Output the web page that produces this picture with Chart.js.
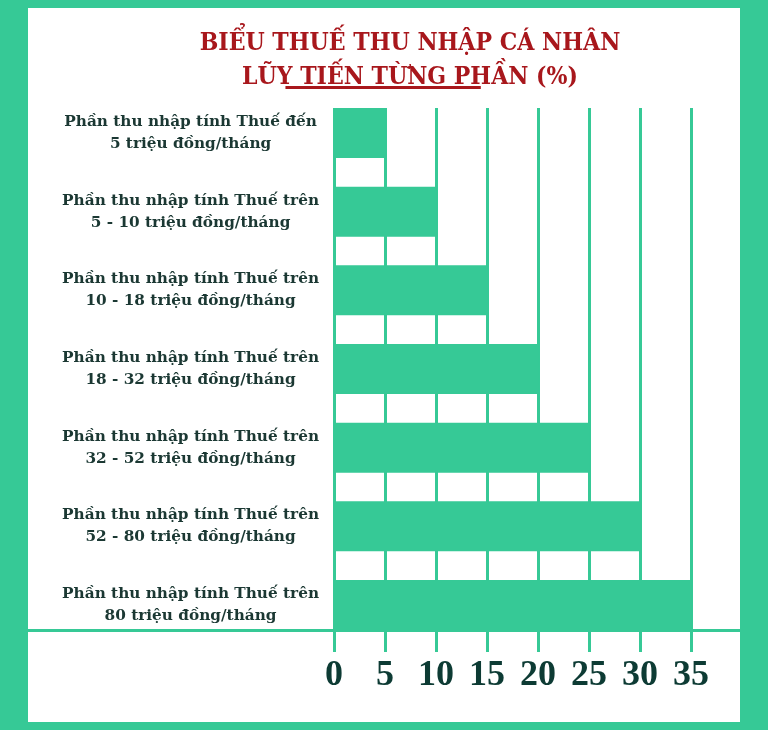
<!DOCTYPE html>
<html>
<head>
<meta charset="utf-8">
<script src="https://cdn.jsdelivr.net/npm/chart.js@4/dist/chart.umd.min.js"></script>
<style>
  html, body { margin: 0; padding: 0; background: #36c996; }
  #wrap { width: 768px; height: 730px; position: relative; }
</style>
</head>
<body>
<div id="wrap"><canvas id="c" width="768" height="730"></canvas></div>
<script>
const titleLines = ["BIỂU THUẾ THU NHẬP CÁ NHÂN", "LŨY TIẾN TỪNG PHẦN (%)"];
const categories = [
  ["Phần thu nhập tính Thuế đến", "5 triệu đồng/tháng"],
  ["Phần thu nhập tính Thuế trên", "5 - 10 triệu đồng/tháng"],
  ["Phần thu nhập tính Thuế trên", "10 - 18 triệu đồng/tháng"],
  ["Phần thu nhập tính Thuế trên", "18 - 32 triệu đồng/tháng"],
  ["Phần thu nhập tính Thuế trên", "32 - 52 triệu đồng/tháng"],
  ["Phần thu nhập tính Thuế trên", "52 - 80 triệu đồng/tháng"],
  ["Phần thu nhập tính Thuế trên", "80 triệu đồng/tháng"]
];
const taxRates = [5, 10, 15, 20, 25, 30, 35];
const xTicks = [0, 5, 10, 15, 20, 25, 30, 35];

const GREEN = '#36c996';
const RED = '#a8171c';
const DARK = '#1b3833';
const TICKDARK = '#0d3b34';

const decor = {
  id: 'decor',
  beforeDraw(chart) {
    const ctx = chart.ctx;
    ctx.save();
    ctx.fillStyle = GREEN;
    ctx.fillRect(0, 0, chart.width, chart.height);
    ctx.fillStyle = '#ffffff';
    ctx.fillRect(28, 8, 712, 714);
    ctx.restore();
  },
  afterDraw(chart) {
    const ctx = chart.ctx;
    const a = chart.chartArea;
    ctx.save();
    ctx.fillStyle = GREEN;
    ctx.fillRect(28, a.bottom - 1, 712, 3);
    ctx.fillStyle = RED;
    ctx.font = 'bold 24.5px "DejaVu Serif Condensed", "DejaVu Serif", serif';
    ctx.textAlign = 'center';
    ctx.textBaseline = 'alphabetic';
    const cx = 410;
    ctx.fillText(titleLines[0], cx, 50);
    ctx.fillText(titleLines[1], cx, 84);
    const full = ctx.measureText(titleLines[1]).width;
    const left = cx - full / 2;
    const yw = ctx.measureText('Y').width;
    const hw = ctx.measureText('H').width;
    const s = left + ctx.measureText(titleLines[1].slice(0, 2)).width + yw * 0.55;
    const e = left + ctx.measureText(titleLines[1].slice(0, 15)).width + hw * 0.5;
    ctx.fillRect(s, 86, e - s, 3);
    ctx.restore();
  }
};

new Chart(document.getElementById('c'), {
  type: 'bar',
  data: {
    datasets: [{
      data: taxRates.map((v, i) => ({ x: v, y: i })),
      backgroundColor: GREEN,
      borderWidth: 0,
      barPercentage: 0.636,
      categoryPercentage: 1
    }]
  },
  options: {
    responsive: false,
    animation: false,
    indexAxis: 'y',
    layout: { padding: { top: 108, right: 28, bottom: 0, left: 0 } },
    plugins: { legend: { display: false }, tooltip: { enabled: false } },
    scales: {
      x: {
        type: 'linear',
        min: 0,
        max: 39.8,
        offset: false,
        afterBuildTicks(scale) { scale.ticks = xTicks.map(v => ({ value: v })); },
        afterFit(scale) { scale.height = 100; },
        grid: { color: GREEN, lineWidth: 3, tickLength: 22, drawOnChartArea: true, offset: false },
        border: { display: false },
        ticks: {
          padding: 2,
          color: TICKDARK,
          font: { family: '"Liberation Serif", serif', size: 36, weight: 'bold' },
          maxRotation: 0
        }
      },
      y: {
        type: 'linear',
        reverse: true,
        offset: false,
        min: -0.318,
        max: 6.318,
        afterBuildTicks(scale) { scale.ticks = categories.map((_, i) => ({ value: i })); },
        afterFit(scale) { scale.width = 334; },
        grid: { display: false, offset: false },
        border: { display: false },
        ticks: {
          padding: 7,
          crossAlign: 'center',
          color: DARK,
          font: { family: '"DejaVu Serif", serif', size: 15.3, weight: 'bold', lineHeight: 1.45 },
          callback: (v) => categories[v] || ''
        }
      }
    }
  },
  plugins: [decor]
});
</script>
</body>
</html>
